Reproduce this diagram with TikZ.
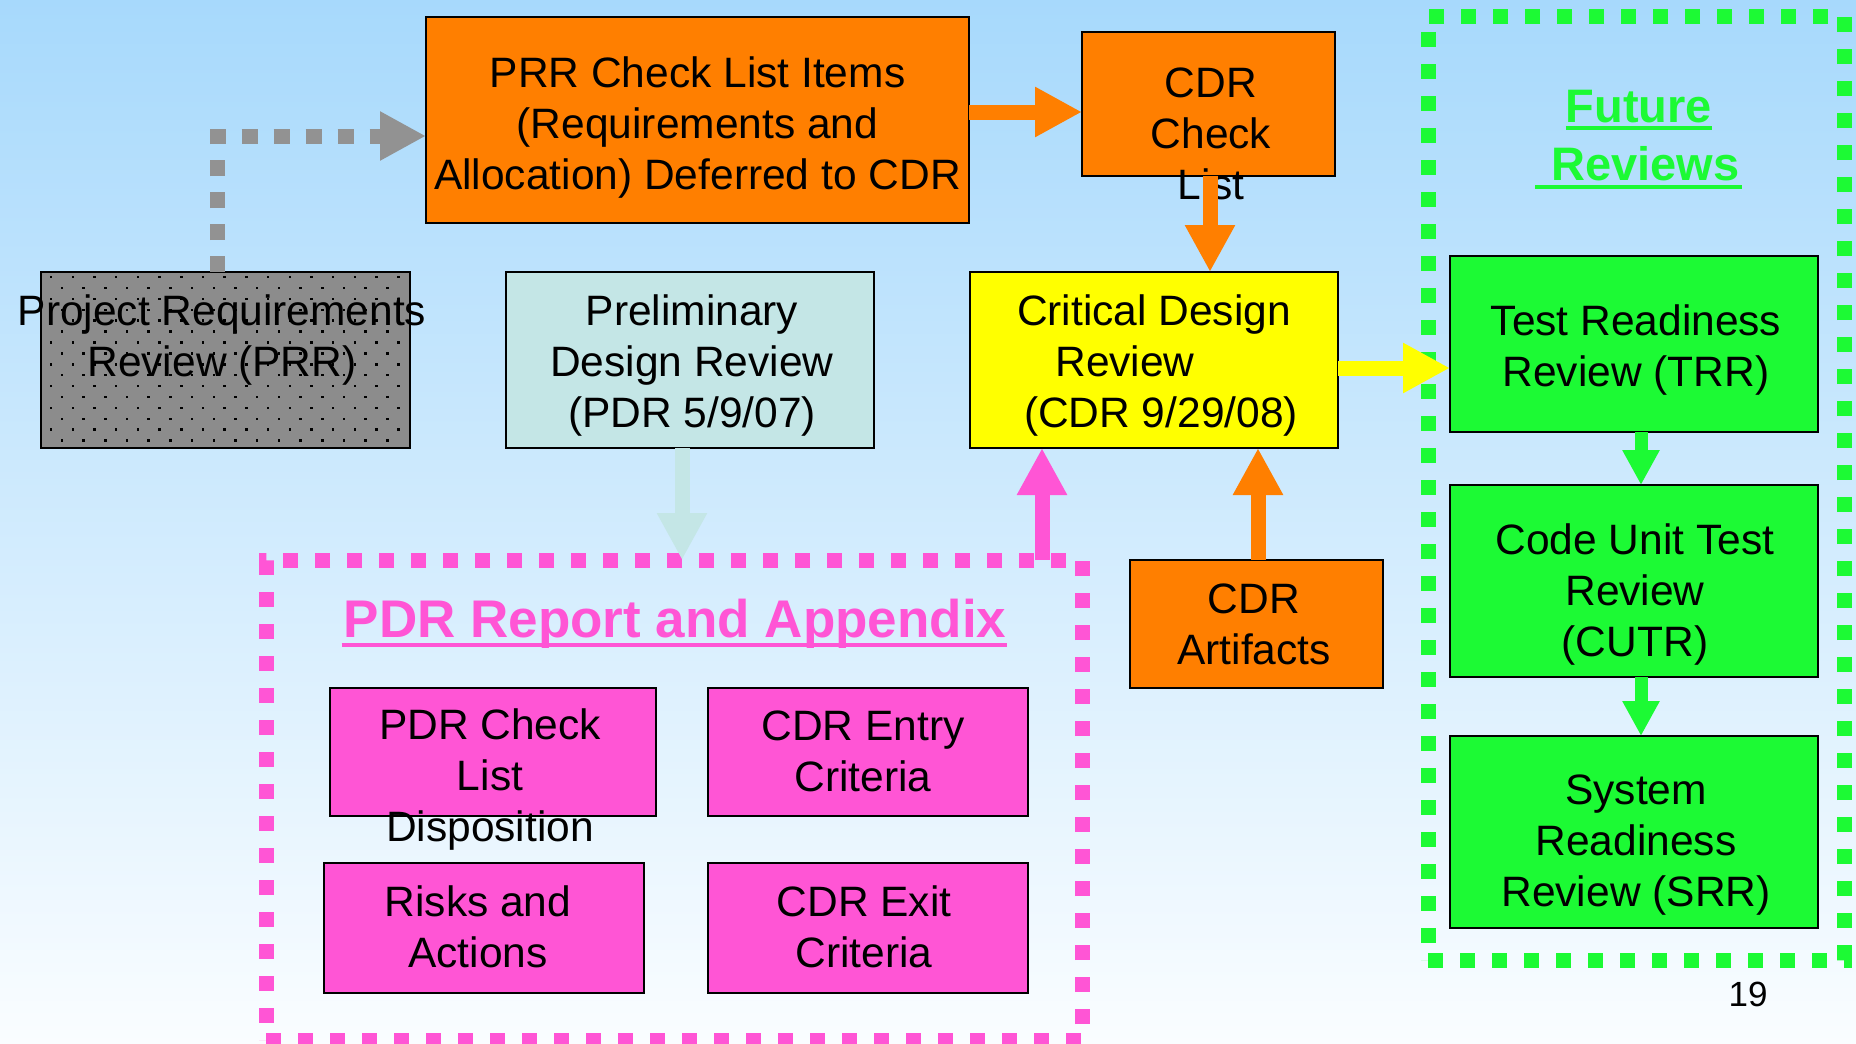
\documentclass[tikz,border=0pt]{standalone}
\usepackage{fontspec}
\setmainfont{Liberation Sans}
\usetikzlibrary{arrows.meta,calc}
\definecolor{bgtop}{RGB}{167,217,252}
\definecolor{bgbot}{RGB}{250,253,255}
\definecolor{orng}{RGB}{255,127,0}
\definecolor{yel}{RGB}{255,255,0}
\definecolor{grn}{RGB}{28,250,52}
\definecolor{pnk}{RGB}{255,85,213}
\definecolor{pcyan}{RGB}{196,230,230}
\definecolor{gry}{RGB}{140,140,140}
\definecolor{garrow}{RGB}{146,146,146}
\newcommand\myBody{\fontsize{42.5}{51}\selectfont}
\newcommand\myTitleP{\bfseries\fontsize{53}{60}\selectfont}
\newcommand\myTitleF{\bfseries\fontsize{47}{58}\selectfont}
\begin{document}
\begin{tikzpicture}[x=1pt,y=-1pt,
  box/.style={draw=black,line width=2.5pt,inner sep=0pt,outer sep=0pt},
  txt/.style={align=center,inner sep=0pt,outer sep=0pt,font=\myBody,text=black},
  dbox/.style={line width=15pt,dash pattern=on 15pt off 17pt,inner sep=0pt,outer sep=0pt},
  fat/.style={line width=15pt,-{Triangle[length=47pt,width=47pt]}},
  slim/.style={line width=13pt,-{Triangle[length=35pt,width=35pt]}},
  dotted arrow/.style={line width=15pt,dash pattern=on 16pt off 16pt,-{Triangle[length=46pt,width=46pt]}},
  ttl/.style={anchor=base,inner sep=0pt,outer sep=0pt}]
\useasboundingbox (0,0) rectangle (1856,1044);
\shade[top color=bgtop,bottom color=bgbot] (0,0) rectangle (1856,1044);

% dashed groups
\node[dbox,draw=pnk,minimum width=816pt,minimum height=480pt] (rep) at (674,800) {};
\node[dbox,draw=grn,minimum width=416pt,minimum height=944pt] (fut) at (1636,488) {};

% titles
\node[ttl,font=\myTitleP,text=pnk] (repT) at (675,637) {PDR Report and Appendix};
\draw[pnk,line width=4pt] ([xshift=-2pt,yshift=-8pt]repT.base west) -- ([xshift=1pt,yshift=-8pt]repT.base east);
\node[ttl,font=\myTitleF,text=grn] (futA) at (1639,122) {Future};
\draw[grn,line width=4pt] ([yshift=-6pt]futA.base west) -- ([yshift=-6pt]futA.base east);
\node[ttl,font=\myTitleF,text=grn] (futB) at (1645.5,180) {Reviews};
\draw[grn,line width=4pt] ([xshift=-16pt,yshift=-7pt]futB.base west) -- ([xshift=2pt,yshift=-7pt]futB.base east);

% top row
\node[box,fill=orng,minimum width=543pt,minimum height=206pt] (prrcl) at (697.5,120) {};
\node[txt] (prrclT) at (697.5,127) {PRR Check List Items\\(Requirements and\\Allocation) Deferred to CDR};
\node[box,fill=orng,minimum width=253pt,minimum height=144pt] (cdrcl) at (1208.5,104) {};
\node[txt] (cdrclT) at (1211,134) {CDR\\Check\\List};

% second row
\node[box,fill=gry,minimum width=369pt,minimum height=176pt] (prr) at (225.5,360) {};
\foreach \r in {0,...,15}{
  \pgfmathsetmacro\off{mod(\r,2)*10.85}
  \foreach \c in {0,...,16}{
    \pgfmathsetmacro\xx{51+21.7*\c+\off}
    \ifdim\xx pt<404pt \fill[black] (\xx-1.2,{277+10.9*\r-1.2}) rectangle ++(2.5,2.5);\fi
  }
}
\node[txt] (prrT) at (222,340) {Project Requirements\\Review (PRR)};
\node[box,fill=pcyan,minimum width=368pt,minimum height=176pt] (pdr) at (690,360) {};
\node[txt] (pdrT) at (692,365) {Preliminary\\Design Review\\(PDR 5/9/07)};
\node[box,fill=yel,minimum width=368pt,minimum height=176pt] (crit) at (1154,360) {};
\node[txt] (critT) at (1154,365) {Critical Design\\\mbox{Review\hspace{58pt}}\\\mbox{\hspace{14pt}(CDR 9/29/08)}};

% right column
\node[box,fill=grn,minimum width=368pt,minimum height=176pt] (trr) at (1634,344) {};
\node[txt] (trrT) at (1636,350) {Test Readiness\\Review (TRR)};
\node[box,fill=grn,minimum width=368pt,minimum height=192pt] (cutr) at (1634,581) {};
\node[txt] (cutrT) at (1635,594) {Code Unit Test\\Review\\(CUTR)};
\node[box,fill=grn,minimum width=368pt,minimum height=192pt] (srr) at (1634,832) {};
\node[txt] (srrT) at (1636,845) {System\\Readiness\\Review (SRR)};

% artifacts
\node[box,fill=orng,minimum width=253pt,minimum height=128pt] (art) at (1256.5,624) {};
\node[txt] (artT) at (1254,624) {CDR\\Artifacts};

% pink boxes
\node[box,fill=pnk,minimum width=326pt,minimum height=128pt] (pb1) at (493,752) {};
\node[txt] (pb1T) at (490,780) {PDR Check\\List\\Disposition};
\node[box,fill=pnk,minimum width=320pt,minimum height=128pt] (pb2) at (868,752) {};
\node[txt] (pb2T) at (863,751) {CDR Entry\\Criteria};
\node[box,fill=pnk,minimum width=320pt,minimum height=130pt] (pb3) at (484,928) {};
\node[txt] (pb3T) at (478,927) {Risks and\\Actions};
\node[box,fill=pnk,minimum width=320pt,minimum height=130pt] (pb4) at (868,928) {};
\node[txt] (pb4T) at (864,927) {CDR Exit\\Criteria};

% page number
\node[ttl,font=\fontsize{35}{42}\selectfont] (pg) at (1748,1006) {19};

% connectors
\coordinate (a1) at ([xshift=1.5pt]cdrcl.south);
\coordinate (a2) at ([yshift=-8pt]crit.east);
\coordinate (a3) at ([xshift=7pt]trr.south);
\coordinate (a4) at ([xshift=7pt]cutr.south);
\coordinate (a5) at ([xshift=1.5pt]art.north);
\coordinate (a6) at ([xshift=-8pt]pdr.south);
\coordinate (a7) at ([xshift=368pt]rep.north);
\coordinate (a8) at ([xshift=-8pt]prr.north);
\draw[fat,orng] ([yshift=8pt]prrcl.east) -- ([yshift=-8pt]cdrcl.west);
\draw[fat,orng] (a1) -- (a1 |- crit.north);
\draw[fat,yel] (a2) -- (a2 -| trr.west);
\draw[slim,grn] (a3) -- (a3 |- cutr.north);
\draw[slim,grn] (a4) -- (a4 |- srr.north);
\draw[fat,orng] (a5) -- (a5 |- crit.south);
\draw[fat,pcyan] (a6) -- (a6 |- rep.north);
\draw[fat,pnk] (a7) -- (a7 |- crit.south);
\draw[dotted arrow,garrow] (a8) |- ([yshift=-16pt]prrcl.west);
\end{tikzpicture}
\end{document}
